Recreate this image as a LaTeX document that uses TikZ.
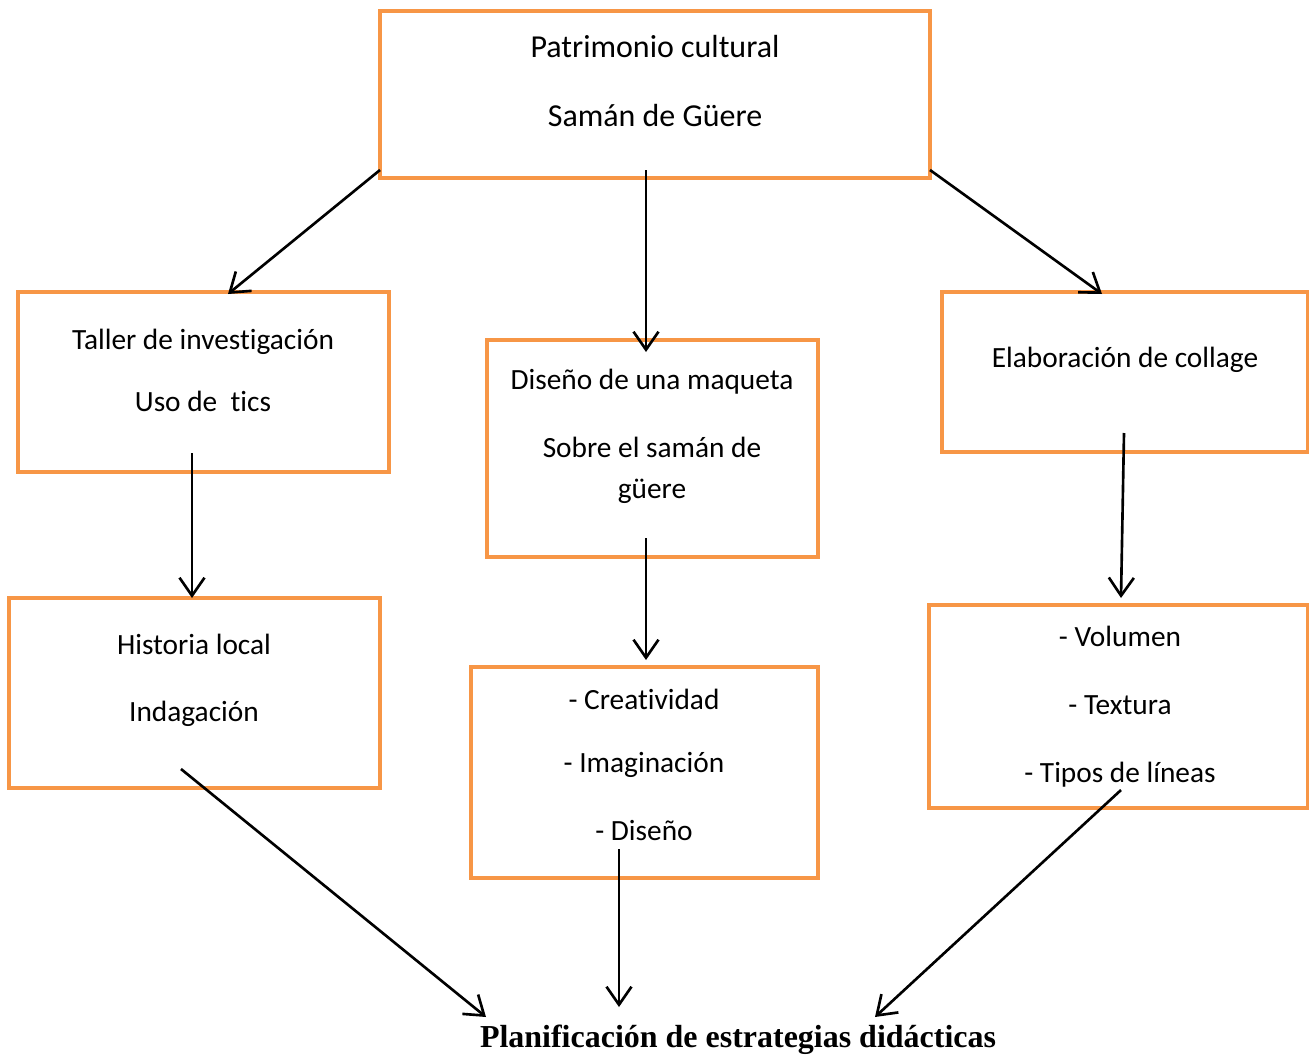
\documentclass[tikz,border=0pt]{standalone}
\usepackage{fontspec}
\setmainfont{Carlito}[Ligatures=NoCommon]
\newfontfamily\titlefont{Liberation Serif}
\usetikzlibrary{arrows.meta}
\definecolor{boxorange}{HTML}{F79646}
\tikzset{
  box/.style={draw=boxorange, line width=2.3pt, inner sep=0pt},
  boxsize/.style 2 args={minimum width=#1*0.02cm, minimum height=#2*0.02cm},
  txt/.style={align=center, font=\fontsize{16.7}{22}\selectfont, inner sep=0pt},
  link/.style={-{Straight Barb[length=0.36cm,width=0.5cm]}, line width=1.5pt},
}

\begin{document}
\begin{tikzpicture}[x=0.02cm, y=-0.02cm]
\useasboundingbox (0,0) rectangle (1309,1055);

\node[box, boxsize={550}{167}] (patrimonio) at (655,94.5) {};
\node[box, boxsize={371}{180}] (taller) at (203.5,382) {};
\node[box, boxsize={331}{217}] (maqueta) at (652.5,448.5) {};
\node[box, boxsize={366}{160}] (collage) at (1125,372) {};
\node[box, boxsize={371}{190}] (historia) at (194.5,693) {};
\node[box, boxsize={347}{211}] (creatividad) at (644.5,772.5) {};
\node[box, boxsize={379}{203}] (volumen) at (1118.5,706.5) {};

\node[txt, font=\fontsize{18.2}{22}\selectfont] (patrimonioText) at (655,81) {Patrimonio cultural\\[17.8pt] Samán de Güere};
\node[txt] (tallerText) at (203,370) {Taller de investigación\\[13.3pt] Uso de~ tics};
\node[txt] (maquetaText) at (652,436) {Diseño de una maqueta\\[16.7pt] Sobre el samán de\\[1.3pt] güere};
\node[txt] (collageText) at (1125,360) {Elaboración de collage};
\node[txt] (historiaText) at (194,680) {Historia local\\[16.1pt] Indagación};
\node[txt] (creatividadText) at (644,765) {- Creatividad\\[13.9pt] - Imaginación\\[16.7pt] - Diseño};
\node[txt] (volumenText) at (1120,707) {- Volumen\\[16.7pt] - Textura\\[16.7pt] - Tipos de líneas};
\node[inner sep=0pt, font=\titlefont\bfseries\fontsize{18.2}{22}\selectfont] (planificacion) at (738,1040) {Planificación de estrategias didácticas};

\coordinate (p1) at (380,170);
\coordinate (p2) at (646,170);
\coordinate (p3) at (930,170);
\coordinate (t1) at (228,294);
\coordinate (m1) at (646,352);
\coordinate (c1) at (1102,294);
\coordinate (t2) at (192,453);
\coordinate (h1) at (192,598);
\coordinate (m2) at (646,538);
\coordinate (d1) at (646,660);
\coordinate (c2) at (1124,433);
\coordinate (v1) at (1121,598);
\coordinate (h2) at (181,769);
\coordinate (d2) at (619,849);
\coordinate (v2) at (1121,790);
\coordinate (e1) at (486,1017);
\coordinate (e2) at (619,1007);
\coordinate (e3) at (875,1017);

\draw[link] (p1) -- (t1);
\draw[link] (p2) -- (m1);
\draw[link] (p3) -- (c1);
\draw[link] (t2) -- (h1);
\draw[link] (m2) -- (d1);
\draw[link] (c2) -- (v1);
\draw[link] (h2) -- (e1);
\draw[link] (d2) -- (e2);
\draw[link] (v2) -- (e3);
\end{tikzpicture}
\end{document}
